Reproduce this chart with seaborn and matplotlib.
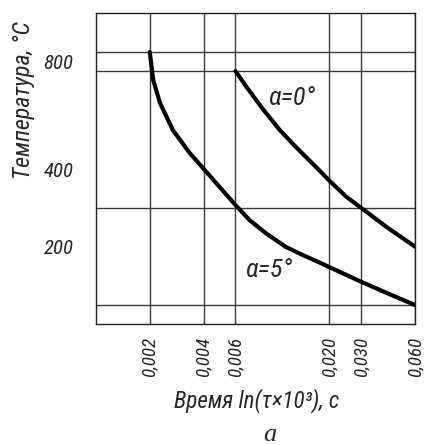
import numpy as np
import pandas as pd
import matplotlib
matplotlib.use("Agg")
import matplotlib.pyplot as plt
from matplotlib import font_manager as fm
import seaborn as sns

# ---- data ----
time_a5 = [0.002, 0.00209, 0.00228, 0.00269, 0.00334, 0.004, 0.0047, 0.006,
           0.0072, 0.0089, 0.0114, 0.0137, 0.0173, 0.020, 0.030, 0.0415, 0.060]
temp_a5 = [850, 718, 636, 539, 457, 400, 363, 307,
           268, 234, 200, 188, 174, 165, 140, 121, 100]

time_a0 = [0.006, 0.0069, 0.0086, 0.0106, 0.0131, 0.0173, 0.020, 0.0249,
           0.030, 0.0415, 0.060]
temp_a0 = [750, 694, 611, 539, 477, 400, 370, 328, 300, 251, 200]

x_ticks = [0.002, 0.004, 0.006, 0.020, 0.030, 0.060]
x_tick_labels = ["0,002", "0,004", "0,006", "0,020", "0,030", "0,060"]
y_ticks = [200, 400, 800]
y_tick_labels = ["200", "400", "800"]
y_grid = [100, 200, 300, 400, 750, 850]

series_labels = ["α=0°", "α=5°"]

# piecewise temperature axis of the schematic (temperature -> relative height)
scale_temps = [0, 100, 200, 300, 400, 750, 850, 1050]
scale_pos = [0, 19, 77.3, 116.3, 155, 253, 272, 310.7]

df = pd.concat([
    pd.DataFrame({"time": time_a0, "temp": temp_a0, "series": series_labels[0]}),
    pd.DataFrame({"time": time_a5, "temp": temp_a5, "series": series_labels[1]}),
])

sns.set_theme(style="white")

# pick the narrowest sans family that is installed
entries = fm.fontManager.ttflist
names = {f.name for f in entries}
stretch = "normal"
if "Liberation Sans Narrow" in names:
    main = "Liberation Sans Narrow"; k = 1.2
elif "Roboto Condensed" in names:
    main = "Roboto Condensed"; k = 1.15
elif any(f.name == "DejaVu Sans" and "ondensed" in f.fname for f in entries):
    main = "DejaVu Sans"; stretch = "condensed"; k = 0.95
else:
    main = "Liberation Sans" if "Liberation Sans" in names else "DejaVu Sans"; k = 1.0
FONT = [main, "DejaVu Sans"]
plt.rcParams["font.family"] = FONT
plt.rcParams["font.stretch"] = stretch

fig = plt.figure(figsize=(4.24, 4.45), dpi=100)
ax = fig.add_axes([0.2257, 0.2719, 0.7531, 0.6982])

def fwd(t):
    return np.interp(t, scale_temps, scale_pos)

def inv(p):
    return np.interp(p, scale_pos, scale_temps)

ax.set_xscale("log")
ax.set_yscale("function", functions=(fwd, inv))

sns.lineplot(data=df, x="time", y="temp", hue="series", units="series",
             estimator=None, sort=False, palette=["black", "black"],
             linewidth=3.0, legend=False, ax=ax)

ax.set_xlim(0.001, 0.06)
ax.set_ylim(0, 1050)

ax.set_xticks(x_ticks)
ax.set_xticklabels(x_tick_labels, rotation=90, fontstyle="italic",
                   fontsize=12 * k)
ax.xaxis.set_minor_locator(matplotlib.ticker.NullLocator())
ax.set_yticks(y_ticks)
ax.set_yticklabels(y_tick_labels, fontstyle="italic", fontsize=13 * k)
ax.set_yticks(y_grid, minor=True)
ax.tick_params(axis="both", which="both", length=0)
ax.tick_params(axis="y", pad=16)
ax.tick_params(axis="x", pad=9.5)

ax.grid(False)
ax.xaxis.grid(True, which="major", color="#3a3a3a", linewidth=1.0)
ax.yaxis.grid(True, which="minor", color="#3a3a3a", linewidth=1.0)
for s in ax.spines.values():
    s.set_color("#222222")
    s.set_linewidth(1.0)

ax.text(0.01227, 652, series_labels[0], fontstyle="italic", fontsize=16.5 * k,
        ha="center", va="center")
ax.text(0.0092, 160, series_labels[1], fontstyle="italic", fontsize=16.5 * k,
        ha="center", va="center")

ax.set_xlabel("Время ln(τ×10³), с", fontstyle="italic", fontsize=14.5 * k)
ax.xaxis.set_label_coords(0.503, -0.208)
ax.set_ylabel("")
fig.text(0.055, 0.776, "Температура, °C", rotation=90, fontstyle="italic",
         fontsize=15 * k, ha="center", va="center")
fig.text(0.637, 0.009, "a", family=["Liberation Serif", "DejaVu Serif"],
         fontstyle="italic", fontsize=19, ha="center", va="baseline")

fig.savefig("out.png", dpi=100)
